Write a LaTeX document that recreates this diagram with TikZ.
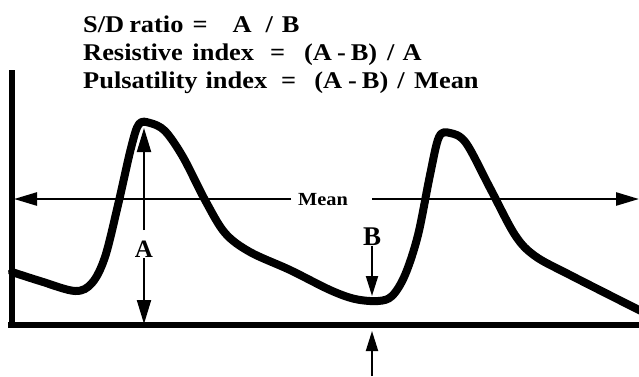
\documentclass[tikz,border=0pt]{standalone}
\usepackage{fontspec}
\setmainfont{Liberation Serif}
\newfontfamily\formfont[FakeStretch=1.10]{Liberation Serif}
\usetikzlibrary{arrows.meta}
\begin{document}
\begin{tikzpicture}[x=1pt,y=-1pt,
  formula/.style={anchor=base west,inner sep=0pt,font=\formfont\bfseries\fontsize{24}{27}\selectfont},
  lbl/.style={inner sep=0pt,font=\bfseries\fontsize{#1}{#1}\selectfont},
  meanlbl/.style={inner sep=0pt,font=\formfont\bfseries\fontsize{18.5}{19}\selectfont},
  axisline/.style={line width=5.5pt},
  wave/.style={line width=8pt,line join=round,line cap=round},
  bigarrow/.style={line width=2pt,-{Triangle[length=24pt,width=14pt]}},
  meanarrow/.style={line width=2.5pt,-{Triangle[length=23pt,width=13pt]}},
  smallarrow/.style={line width=2pt,-{Triangle[length=20pt,width=12pt]}}]
\useasboundingbox (0,0) rectangle (639,376);
\fill[white] (0,0) rectangle (639,376);
% formulas
\node[formula] (f1) at (83,32) {S/D\hspace{5pt}ratio\hspace{9pt}=\hspace{25pt}A\hspace{14pt}/\hspace{9pt}B};
\node[formula] (f2) at (83,60) {Resistive\hspace{9.6pt}index\hspace{16pt}=\hspace{19pt}(A\hspace{5pt}-\hspace{5pt}B)\hspace{10pt}/\hspace{8pt}A};
\node[formula] (f3) at (83,88) {Pulsatility\hspace{8pt}index\hspace{14pt}=\hspace{18pt}(A\hspace{6pt}-\hspace{5pt}B)\hspace{9pt}/\hspace{9.5pt}Mean};
% axes
\coordinate (axtop) at (12,70);
\coordinate (axbot) at (12,328);
\coordinate (axleft) at (8,325);
\coordinate (axright) at (639,325);
\draw[axisline] (axtop) -- (axbot);
\draw[axisline] (axleft) -- (axright);
% mean line
\node[meanlbl] (mean) at (323,200) {Mean};
\coordinate (meanL) at (291,199);
\coordinate (meanLtip) at (14,199);
\coordinate (meanR) at (372,199);
\coordinate (meanRtip) at (639,199);
\draw[meanarrow] (meanL) -- (meanLtip);
\draw[meanarrow] (meanR) -- (meanRtip);
% waveform
\begin{scope}
\clip (0,0) rectangle (639,376);
\draw[wave] plot[smooth,tension=0.55] coordinates {
 (12,272) (40,281) (75,291) (92,283) (105,257) (118,205) (131,148) (139,124)
 (150,123) (165,131) (183,157) (205,200) (225,233) (250,252) (290,270)
 (330,290) (355,299) (378,301) (392,296) (405,275) (418,235) (430,175)
 (439,137) (450,133) (466,143) (490,188) (515,235) (535,256) (570,275) (645,313)};
\end{scope}
% A arrows
\node[lbl=25] (A) at (144,249) {A};
\coordinate (Aup) at (144,230);
\coordinate (Atop) at (144,128);
\coordinate (Adn) at (144,258);
\coordinate (Abot) at (144,324);
\draw[bigarrow] (Aup) -- (Atop);
\draw[bigarrow] (Adn) -- (Abot);
% B arrow
\node[lbl=27] (B) at (372,237) {B};
\coordinate (Btip) at (372,296);
\draw[smallarrow] (B.south) -- (Btip);
% bottom arrow
\coordinate (Cstart) at (372,376);
\coordinate (Ctip) at (372,331);
\draw[smallarrow] (Cstart) -- (Ctip);
\end{tikzpicture}
\end{document}
